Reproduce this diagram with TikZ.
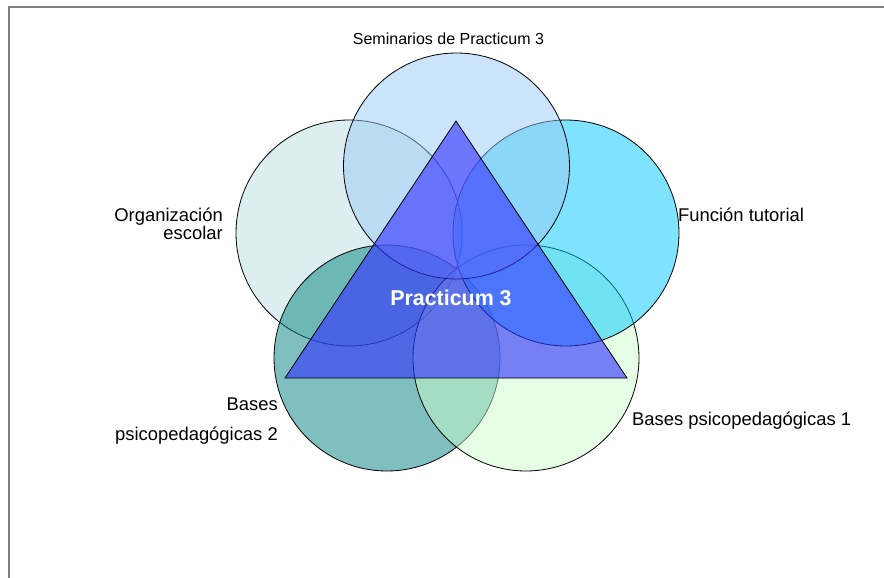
\documentclass[tikz,border=0pt]{standalone}
\usepackage{fontspec}
\setmainfont{Liberation Sans}
\definecolor{frameGray}{RGB}{128,128,128}
\definecolor{semCol}{RGB}{153,201,245}
\definecolor{orgCol}{RGB}{187,221,225}
\definecolor{funCol}{RGB}{0,200,255}
\definecolor{bpdosCol}{RGB}{0,128,128}
\definecolor{bpunoCol}{RGB}{201,251,201}
\definecolor{triCol}{RGB}{51,51,255}
\begin{document}
\begin{tikzpicture}[x=1pt,y=-1pt,
  disc/.style={circle,draw=black,line width=0.8pt,minimum size=226pt,inner sep=0pt,fill opacity=0.5},
  lbl/.style={inner sep=0pt,font=\fontsize{18.4}{20}\selectfont},
  tri/.style={draw=black,line width=0.8pt,fill=triCol,fill opacity=0.62,line join=miter}]
  \useasboundingbox (0,0) rectangle (884,578);
  % frame edges (top and left)
  \draw[frameGray,line width=2pt] (8.5,578) -- (8.5,7.5) -- (884,7.5);

  % five overlapping circles, back to front
  \node (org)   [disc,fill=orgCol]   at (349,233)   {};
  \node (bpdos) [disc,fill=bpdosCol] at (387,358)   {};
  \node (bpuno) [disc,fill=bpunoCol] at (526,358)   {};
  \node (fun)   [disc,fill=funCol]   at (566,233)   {};
  \node (sem)   [disc,fill=semCol]   at (456.5,166) {};

  % central triangle
  \coordinate (apex) at (456,121);
  \coordinate (bl) at (285,378);
  \coordinate (br) at (627,378);
  \draw[tri] (apex) -- (bl) -- (br) -- cycle;
  \node (center) [inner sep=0pt,anchor=base,text=white,font=\fontsize{21.4}{24}\selectfont\bfseries] at (451,305) {Practicum 3};

  % labels (multi-line nodes are anchored at the baseline of their last line)
  \node (semL) [lbl,anchor=base,font=\fontsize{16}{18}\selectfont] at (448.5,45) {Seminarios de Practicum 3};
  \node (orgL) [lbl,anchor=base east,align=right] at (223,239) {Organización\\[-2pt]escolar};
  \node (funL) [lbl,anchor=base west] at (678,221.5) {Función tutorial};
  \node (bpdosL) [lbl,anchor=base east,align=right] at (278,440) {Bases\\[10pt]psicopedagógicas 2};
  \node (bpunoL) [lbl,anchor=base west] at (632,425) {Bases psicopedagógicas 1};
\end{tikzpicture}
\end{document}
